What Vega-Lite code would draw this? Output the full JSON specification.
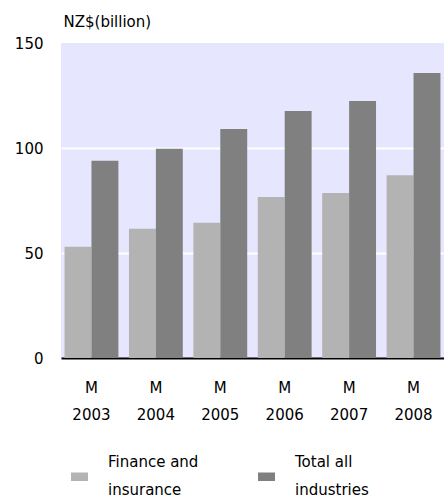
{
  "$schema": "https://vega.github.io/schema/vega-lite/v6.json",
  "width": 383,
  "height": 315,
  "autosize": "none",
  "padding": {"left": 61, "top": 43, "right": 0, "bottom": 143},
  "background": "white",
  "config": {
    "view": {"fill": "#e6e6ff", "stroke": null},
    "font": "DejaVu Sans",
    "style": {"guide-label": {"lineHeight": 28}}
  },
  "data": {
    "values": [
      {"period": "M 2003", "series": "Finance and insurance", "value": 53.0},
      {"period": "M 2003", "series": "Total all industries", "value": 93.9},
      {"period": "M 2004", "series": "Finance and insurance", "value": 61.5},
      {"period": "M 2004", "series": "Total all industries", "value": 99.6},
      {"period": "M 2005", "series": "Finance and insurance", "value": 64.4},
      {"period": "M 2005", "series": "Total all industries", "value": 109.1},
      {"period": "M 2006", "series": "Finance and insurance", "value": 76.7},
      {"period": "M 2006", "series": "Total all industries", "value": 117.6},
      {"period": "M 2007", "series": "Finance and insurance", "value": 78.6},
      {"period": "M 2007", "series": "Total all industries", "value": 122.4},
      {"period": "M 2008", "series": "Finance and insurance", "value": 87.0},
      {"period": "M 2008", "series": "Total all industries", "value": 135.7}
    ]
  },
  "mark": {"type": "bar"},
  "encoding": {
    "x": {
      "field": "period",
      "type": "nominal",
      "sort": null,
      "scale": {"paddingInner": 0.164, "paddingOuter": 0.055},
      "axis": {
        "title": null,
        "labelAngle": 0,
        "labelExpr": "split(datum.label, ' ')",
        "labelLineHeight": 27,
        "labelFontSize": 15,
        "labelColor": "#000000",
        "labelPadding": 22,
        "labelBaseline": "top",
        "domainColor": "#000000",
        "domainWidth": 2,
        "ticks": false
      }
    },
    "xOffset": {"field": "series", "sort": null, "scale": {"paddingInner": 0, "paddingOuter": 0}},
    "y": {
      "field": "value",
      "type": "quantitative",
      "scale": {"domain": [0, 150], "nice": false},
      "axis": {
        "values": [0, 50, 100, 150],
        "title": "NZ$(billion)",
        "titleAngle": 0,
        "titleX": 2,
        "titleY": -17,
        "titleAlign": "left",
        "titleBaseline": "alphabetic",
        "titleFontWeight": "normal",
        "titleFontSize": 15,
        "titleColor": "#000000",
        "domain": false,
        "ticks": false,
        "labelPadding": 18,
        "labelFontSize": 15,
        "labelColor": "#000000",
        "labelLineHeight": 15,
        "gridColor": {"condition": {"test": "datum.value === 50 || datum.value === 100", "value": "#ffffff"}, "value": "transparent"},
        "gridWidth": 2
      }
    },
    "color": {
      "field": "series",
      "type": "nominal",
      "sort": null,
      "scale": {"range": ["#b3b3b3", "#808080"]},
      "legend": {
        "title": null,
        "orient": "none",
        "direction": "horizontal",
        "legendX": 10,
        "legendY": 425,
        "padding": 0,
        "symbolType": "M-1,-0.5H1V0.5H-1Z",
        "symbolSize": 289,
        "symbolStrokeWidth": 0,
        "labelExpr": "datum.label === 'Finance and insurance' ? ['Finance and', 'insurance'] : ['Total all', 'industries']",
        "labelFontSize": 15,
        "labelBaseline": "line-bottom",
        "labelOffset": 20,
        "labelColor": "#000000",
        "labelLimit": 300,
        "columnPadding": 59
      }
    }
  }
}
